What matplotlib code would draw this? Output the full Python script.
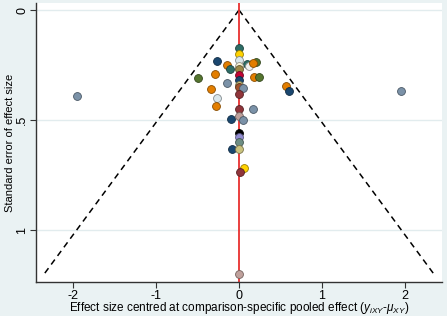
import matplotlib
matplotlib.use("Agg")
import matplotlib.pyplot as plt
import matplotlib.colors as mc
import numpy as np

plt.rcParams['font.family'] = ['Liberation Sans', 'DejaVu Sans']
plt.rcParams['mathtext.fontset'] = 'custom'
plt.rcParams['mathtext.rm'] = 'Liberation Sans'
plt.rcParams['mathtext.it'] = 'Liberation Sans:italic'

# Data: centred effect sizes and standard errors
effect = [0.0, 0.0, 0.0, -0.26, -0.15, 0.10, 0.12, 0.20, 0.17, -0.11, 0.0, 0.0,
          -0.50, -0.29, 0.18, 0.24, 0.0, 0.0, -0.15, -0.34, 0.0, 0.0, 0.05, 0.0,
          0.57, 0.60, -0.27, -0.28, 0.0, 0.165, -0.10, 0.0, 0.05, 0.0, 0.0, 0.0,
          -0.08, 0.0, 0.06, 0.01, 0.0, -1.95, 1.95]
se = [0.174, 0.200, 0.227, 0.230, 0.250, 0.247, 0.255, 0.235, 0.240, 0.270, 0.255, 0.270,
      0.310, 0.290, 0.306, 0.306, 0.295, 0.318, 0.330, 0.360, 0.340, 0.350, 0.356, 0.383,
      0.345, 0.370, 0.400, 0.436, 0.449, 0.450, 0.495, 0.482, 0.500, 0.560, 0.576, 0.600,
      0.632, 0.633, 0.720, 0.735, 1.200, 0.390, 0.367]
point_colors = ['#2D6D66', '#FFD200', '#D9E6EB', '#1A476F', '#E37E00', '#2D6D66', '#F0F0F0',
                '#55752F', '#E37E00', '#2D6D66', '#F5F0D8', '#9C8847',
                '#55752F', '#E37E00', '#E37E00', '#55752F', '#C10534', '#1A476F', '#7B92A8',
                '#E37E00', '#CAC27E', '#A0522D', '#7B92A8', '#90353B',
                '#E37E00', '#1A476F', '#D9E6EB', '#E37E00', '#90353B', '#7B92A8', '#1A476F',
                '#BFA19C', '#7B92A8', '#000000', '#938DD2', '#6E8E84',
                '#1A476F', '#CAC27E', '#FFD200', '#90353B', '#BFA19C', '#7B92A8', '#7B92A8']

xticks = [-2, -1, 0, 1, 2]
xticklabels = ['-2', '-1', '0', '1', '2']
yticks = [0, 0.5, 1]
yticklabels = ['0', '.5', '1']
se_max = 1.2

bg = '#EAF2F3'
fig = plt.figure(figsize=(4.47, 3.16), dpi=100, facecolor=bg)
ax = fig.add_axes([36/447, 1-282/316, (442-36)/447, (282-3)/316])
ax.set_facecolor('white')

for yv in yticks:
    ax.axhline(yv, color='#E2ECEE', lw=1.0, zorder=0)

# funnel
se_line = np.array([0, se_max])
ax.plot(-1.96*se_line, se_line, color='black', ls=(0, (4, 3)), lw=1.1, zorder=1)
ax.plot(1.96*se_line, se_line, color='black', ls=(0, (4, 3)), lw=1.1, zorder=1)
ax.axvline(0, color='#E8302F', lw=1.3, zorder=2)

def darker(c):
    r, g, b = mc.to_rgb(c)
    return (r*0.6, g*0.6, b*0.6)

for xv, yv, c in zip(effect, se, point_colors):
    ax.scatter(xv, yv, s=32, color=c, edgecolor=darker(c), linewidth=0.6, zorder=3)

ax.set_xlim(-2.45, 2.45)
ax.set_ylim(1.236, -0.032)
ax.set_xticks(xticks)
ax.set_xticklabels(xticklabels)
ax.set_yticks(yticks)
ax.set_yticklabels(yticklabels, rotation=90, va='center')
ax.tick_params(axis='both', direction='out', length=4, width=0.8, color='#333333',
               labelsize=9, pad=1.5)
for s in ['top', 'right']:
    ax.spines[s].set_visible(False)
for s in ['left', 'bottom']:
    ax.spines[s].set_color('#333333')
    ax.spines[s].set_linewidth(1.0)

ax.set_ylabel('Standard error of effect size', fontsize=8, labelpad=1)
ax.set_xlabel(r'Effect size centred at comparison-specific pooled effect ($y_{iXY}$-$\mu_{XY}$)',
              fontsize=8.5, labelpad=-1)

fig.savefig('out.png', dpi=100, facecolor=bg)
